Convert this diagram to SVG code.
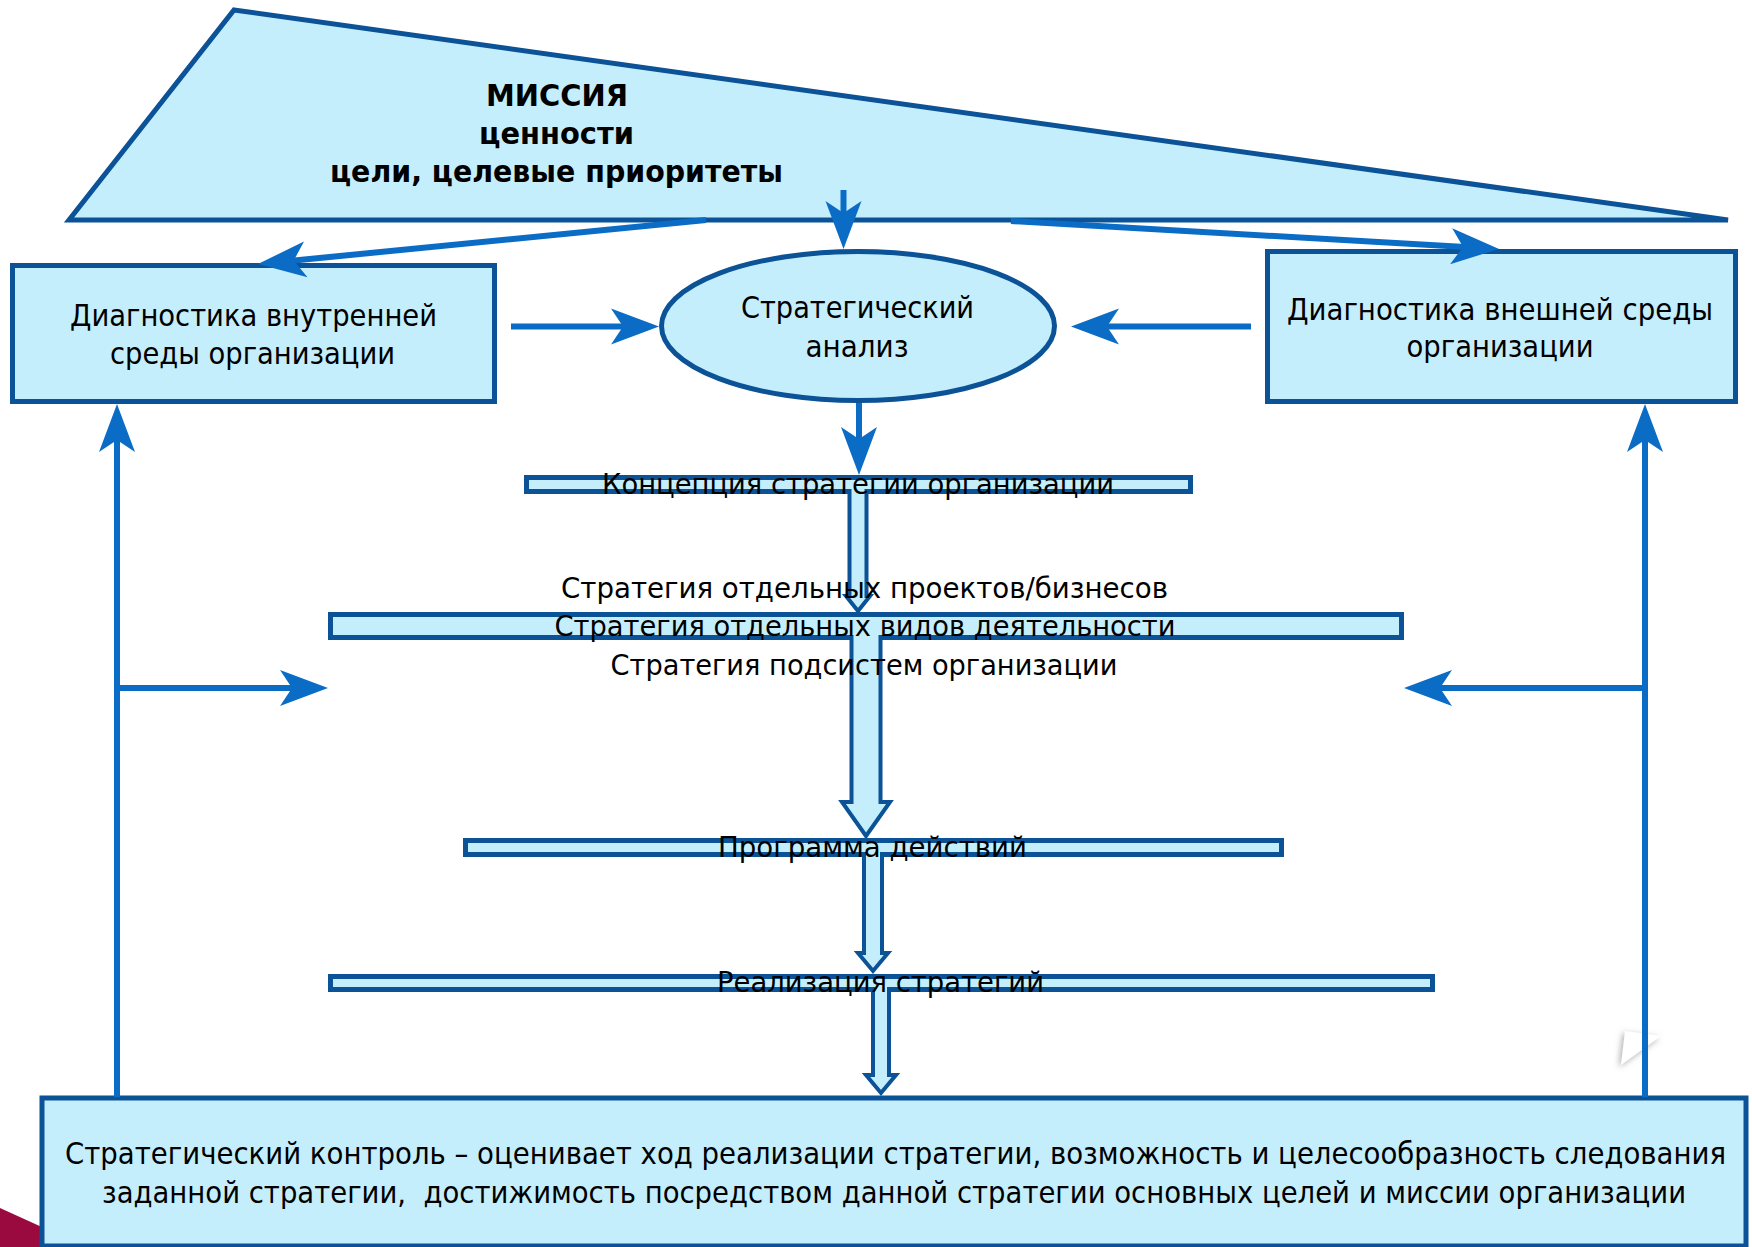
<svg xmlns="http://www.w3.org/2000/svg" width="1752" height="1247" viewBox="0 0 1752 1247">
<style>
.shape{fill:#C5EEFD;stroke:#0B5296;stroke-width:5}
.bar{fill:#C5EEFD;stroke:#0B5296;stroke-width:5}
.hollow{fill:#C5EEFD;stroke:#0B5296;stroke-width:4;stroke-linejoin:miter}
.conn{stroke:#0B6CC6;stroke-width:6;fill:none}
.t{font-family:"DejaVu Sans Condensed","DejaVu Sans",Tahoma,sans-serif;font-size:30px;fill:#000;text-anchor:middle}
.b{font-weight:bold}
.ct{font-size:28px}
</style>
<defs>
<marker id="ah" viewBox="0 -20 50 40" refX="14" refY="0" markerWidth="50" markerHeight="40" markerUnits="userSpaceOnUse" orient="auto">
<path d="M0,-18 L48,0 L0,18 L12,0 Z" fill="#0B6CC6"/>
</marker>
<filter id="sh" x="-50%" y="-50%" width="200%" height="200%">
<feDropShadow dx="-2" dy="2" stdDeviation="3" flood-color="#777" flood-opacity="0.6"/>
</filter>
</defs>
<rect width="1752" height="1247" fill="#fff"/>
<polygon points="0,1208 44,1228 44,1247 0,1247" fill="#9B0A3E"/>
<polygon points="1625,1031 1661,1036 1621,1065" fill="#fff" filter="url(#sh)"/>

<g id="mission">
<polygon class="shape" points="234,10 1728,220 69,220"/>
</g>
<g id="internal">
<rect class="shape" x="12.5" y="265.5" width="482" height="136"/>
</g>
<g id="analysis">
<ellipse class="shape" cx="858" cy="326" rx="196.5" ry="74.5"/>
</g>
<g id="external">
<rect class="shape" x="1267.5" y="251.5" width="468" height="150"/>
</g>
<g id="concept">
<rect class="bar" x="526.5" y="477.5" width="664" height="14"/>
</g>
<g id="strategies">
<rect class="bar" x="330.5" y="614.5" width="1071" height="23"/>
</g>
<g id="program">
<rect class="bar" x="465.5" y="840.5" width="816" height="14"/>
</g>
<g id="realization">
<rect class="bar" x="330.5" y="976.5" width="1102" height="13"/>
</g>
<g id="control">
<rect class="shape" x="42" y="1098" width="1704" height="148" stroke-width="4"/>
</g>

<g id="connectors">
<line class="conn" x1="843.5" y1="190" x2="843.5" y2="215" marker-end="url(#ah)"/>
<line class="conn" x1="706" y1="220" x2="291.8" y2="260.7" marker-end="url(#ah)"/>
<line class="conn" x1="1011" y1="221" x2="1465.1" y2="247" marker-end="url(#ah)"/>
<line class="conn" x1="511" y1="326.5" x2="625" y2="326.5" marker-end="url(#ah)"/>
<line class="conn" x1="1251" y1="326.5" x2="1105" y2="326.5" marker-end="url(#ah)"/>
<line class="conn" x1="859" y1="403" x2="859" y2="441" marker-end="url(#ah)"/>
<line class="conn" x1="117" y1="1097" x2="117" y2="438" marker-end="url(#ah)"/>
<line class="conn" x1="114" y1="688" x2="294" y2="688" marker-end="url(#ah)"/>
<line class="conn" x1="1645" y1="1097" x2="1645" y2="438" marker-end="url(#ah)"/>
<line class="conn" x1="1648" y1="688" x2="1438" y2="688" marker-end="url(#ah)"/>
<path class="hollow" d="M849.5,489 L849.5,596 L846,596 L858,611 L870,596 L866.5,596 L866.5,489"/>
<path class="hollow" d="M851.5,635 L851.5,802 L842,802 L866,836 L890,802 L880.5,802 L880.5,635"/>
<path class="hollow" d="M864,852 L864,953 L858,953 L873,971 L888,953 L882,953 L882,852"/>
<path class="hollow" d="M873,987 L873,1075 L866,1075 L881,1093 L896,1075 L889,1075 L889,987"/>
</g>

<g id="labels">
<text class="t b" x="557" y="106" font-size="31" textLength="142" lengthAdjust="spacingAndGlyphs">МИССИЯ</text>
<text class="t b" x="556.5" y="144" font-size="31" textLength="155" lengthAdjust="spacingAndGlyphs">ценности</text>
<text class="t b" x="556.5" y="182" font-size="31" textLength="453" lengthAdjust="spacingAndGlyphs">цели, целевые приоритеты</text>
<text class="t" x="253.5" y="326" font-size="32" textLength="367" lengthAdjust="spacingAndGlyphs">Диагностика внутренней</text>
<text class="t" x="252.5" y="364" font-size="32" textLength="285" lengthAdjust="spacingAndGlyphs">среды организации</text>
<text class="t" x="857.5" y="318" font-size="31" textLength="233" lengthAdjust="spacingAndGlyphs">Стратегический</text>
<text class="t" x="857" y="357" font-size="31" textLength="103" lengthAdjust="spacingAndGlyphs">анализ</text>
<text class="t" x="1500" y="320" font-size="32" textLength="426" lengthAdjust="spacingAndGlyphs">Диагностика внешней среды</text>
<text class="t" x="1500" y="357" font-size="32" textLength="187" lengthAdjust="spacingAndGlyphs">организации</text>
<text class="t ct" x="858" y="494" textLength="512" lengthAdjust="spacingAndGlyphs">Концепция стратегии организации</text>
<text class="t ct" x="864.5" y="598" textLength="607" lengthAdjust="spacingAndGlyphs">Стратегия отдельных проектов/бизнесов</text>
<text class="t ct" x="865" y="636" textLength="621" lengthAdjust="spacingAndGlyphs">Стратегия отдельных видов деятельности</text>
<text class="t ct" x="864" y="675" textLength="507" lengthAdjust="spacingAndGlyphs">Стратегия подсистем организации</text>
<text class="t ct" x="872.5" y="857" textLength="309" lengthAdjust="spacingAndGlyphs">Программа действий</text>
<text class="t ct" x="880.5" y="992" textLength="327" lengthAdjust="spacingAndGlyphs">Реализация стратегий</text>
<text class="t" x="895.5" y="1164" font-size="30" textLength="1661" lengthAdjust="spacingAndGlyphs">Стратегический контроль – оценивает ход реализации стратегии, возможность и целесообразность следования</text>
<text class="t" x="894" y="1203" font-size="30" style="white-space:pre" textLength="1584" lengthAdjust="spacingAndGlyphs">заданной стратегии,  достижимость посредством данной стратегии основных целей и миссии организации</text>
</g>
</svg>
